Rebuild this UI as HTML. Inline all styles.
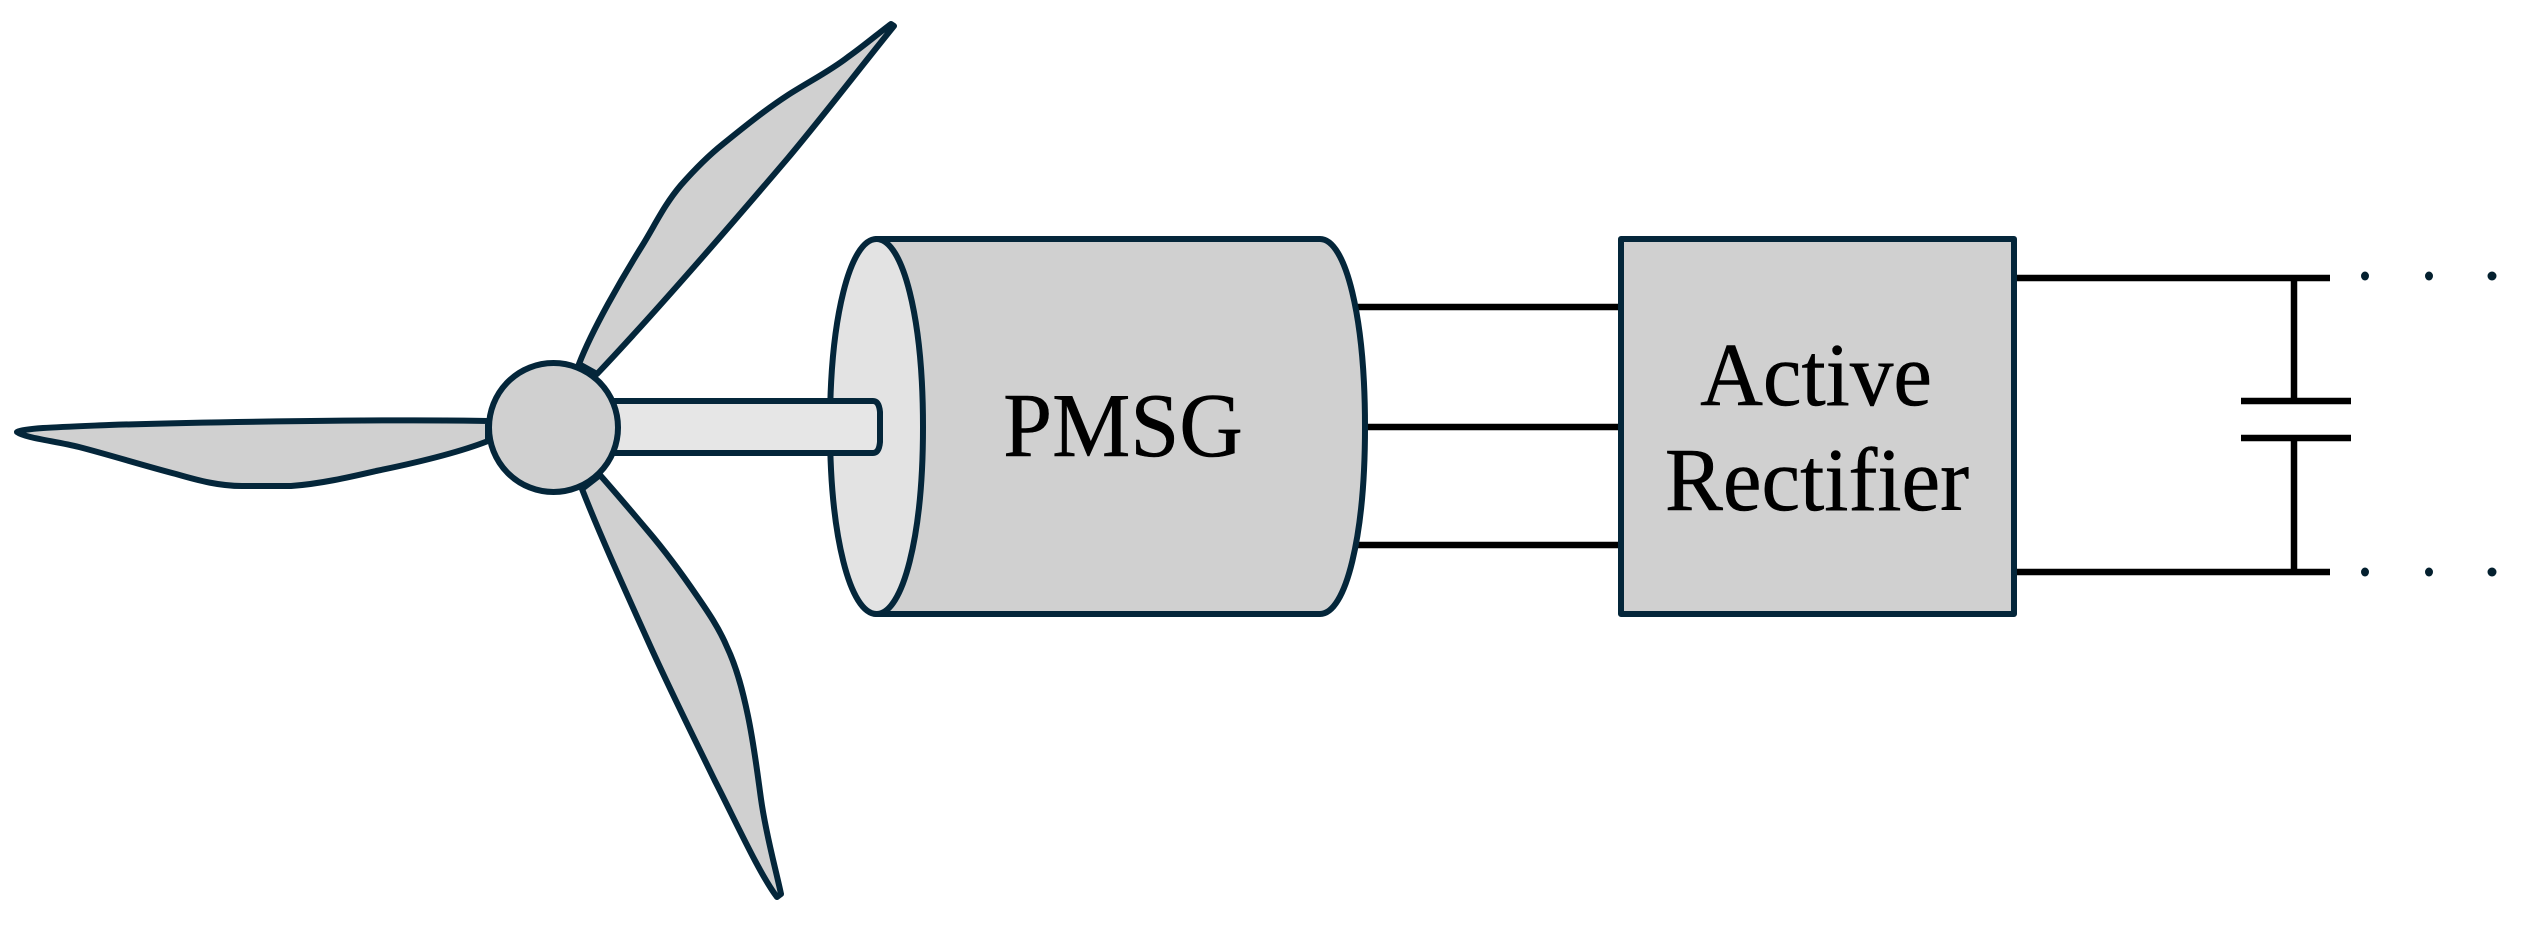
<!DOCTYPE html>
<html>
<head>
<meta charset="utf-8">
<style>
html,body{margin:0;padding:0;background:#fff;width:2525px;height:935px;overflow:hidden}
svg{display:block}
text{font-family:"Liberation Serif",serif;fill:#000;stroke:#000;stroke-width:.5;text-anchor:middle}
</style>
</head>
<body>
<svg width="2525" height="935" viewBox="0 0 2525 935" xmlns="http://www.w3.org/2000/svg">
<rect width="2525" height="935" fill="#fff"/>
<g stroke="#000" stroke-width="6.500" fill="none">
<path d="M1350 307H1622M1350 427H1622M1350 545H1622"/>
<path d="M2014 278H2330M2014 572H2330"/>
<path d="M2294 278V401M2294 438V572"/>
<path d="M2241 401H2351M2241 438H2351"/>
</g>
<g stroke="#04263a" stroke-width="6" stroke-linejoin="round">
<!-- blades -->
<path fill="#d0d0d0" d="M488 421C400 419 200 422 109 425C60 427 25 428 17 432C25 438 55 441 79 447C110 455 145 466 176 474C200 481 220 486 242 486L291 486C320 484 350 477 376 471C420 462 460 452 488 441Z"/>
<path fill="#d0d0d0" d="M579 364C592 330 622 278 642 246C655 225 664 205 681 185C696 168 708 156 723 144C744 127 765 110 788 95C810 81 830 71 848 57C865 45 880 32 891 24L894 26C860 68 820 120 788 158C725 232 650 318 597 374Z"/>
<path fill="#d0d0d0" d="M582 489C600 535 625 590 648 641C670 690 695 740 715 781C735 820 760 875 777 897L781 894C776 870 766 835 761 799C757 770 754 745 748 716C743 692 737 668 727 647C719 628 708 612 697 596C682 574 665 551 648 531C632 512 615 492 600 475Z"/>
<!-- generator body -->
<path fill="#d0d0d0" d="M876 239H1320C1346 239 1365 318 1365 427C1365 536 1346 614 1320 614H876Z"/>
<path fill="#e3e3e3" d="M876.500 239C903 239 923 318 923 427C923 536 903 614 876.500 614C850 614 830 536 830 427C830 318 850 239 876.500 239Z"/>
<!-- shaft -->
<path fill="#e6e6e6" d="M600 401H873Q879 401 880 412V442Q879 453 873 453H600Z"/>
<!-- hub -->
<circle cx="553.500" cy="427.500" r="64.500" fill="#d0d0d0"/>
<!-- rectifier -->
<rect x="1621" y="239" width="393" height="375" fill="#d0d0d0"/>
</g>
<text transform="translate(1123 456) scale(1 1.030)" font-size="88">PMSG</text>
<text transform="translate(1816 405) scale(1 1.030)" font-size="87">Active</text>
<text transform="translate(1817 510) scale(1 1.030)" font-size="87">Rectifier</text>
<g fill="#04202f">
<ellipse cx="2365" cy="276" rx="4" ry="4.500"/>
<ellipse cx="2429" cy="276" rx="4" ry="4.500"/>
<ellipse cx="2492" cy="276" rx="4.500" ry="4.500"/>
<ellipse cx="2365" cy="572" rx="4" ry="4.500"/>
<ellipse cx="2429" cy="572" rx="4" ry="4.500"/>
<ellipse cx="2492" cy="572" rx="4.500" ry="4.500"/>
</g>
</svg>
</body>
</html>
